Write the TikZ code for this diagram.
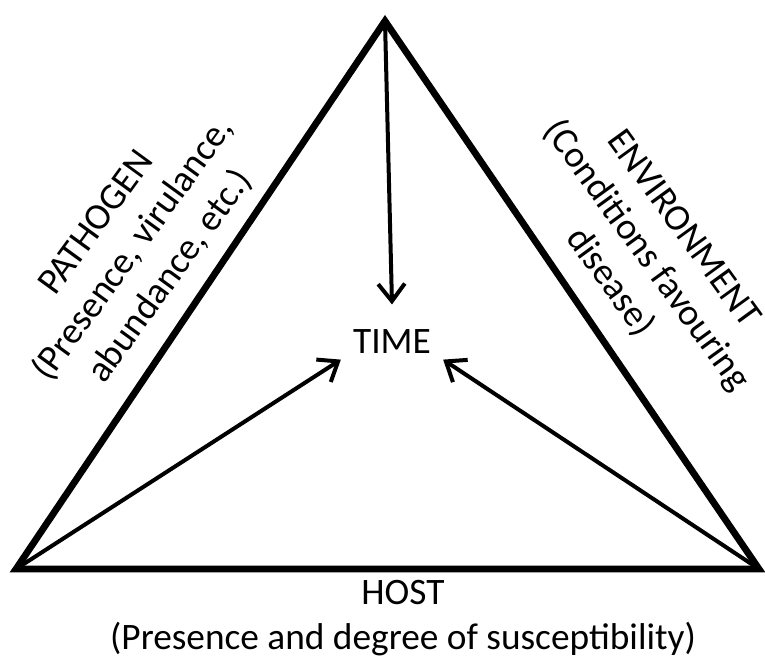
\documentclass[tikz,border=0pt]{standalone}
\usepackage{fontspec}
\setmainfont{Carlito}
\usetikzlibrary{arrows.meta}

\begin{document}
\begin{tikzpicture}[x=0.75pt,y=-0.75pt,
    side/.style={line width=5.1pt},
    arr/.style={-{Straight Barb[length=13pt,width=20pt]},line width=3pt},
    lbl/.style={font=\fontsize{28}{34}\selectfont,align=center,inner sep=0pt}]
  \useasboundingbox (0,0) rectangle (765,658);

  \coordinate (P) at (16,569);
  \coordinate (E) at (385,21);
  \coordinate (H) at (759,569);

  \node[lbl,inner xsep=9pt,inner ysep=19pt] (time) at (392,342) {TIME};

  \draw[side] (P) -- (E) -- (H) -- cycle;
  \draw[arr] (E) -- (time.north);
  \draw[arr] (P) -- (time.199);
  \draw[arr] (H) -- (time.341);

  \node[lbl,rotate=54]  (pathogen) at (134,250) {PATHOGEN\\(Presence, virulance,\\abundance, etc.)};
  \node[lbl,rotate=-54] (environment) at (646,256) {ENVIRONMENT\\(Conditions favouring\\disease)};
  \node[lbl,anchor=north] (host) at (403,580) {HOST\\(Presence and degree of susceptibility)};
\end{tikzpicture}
\end{document}
